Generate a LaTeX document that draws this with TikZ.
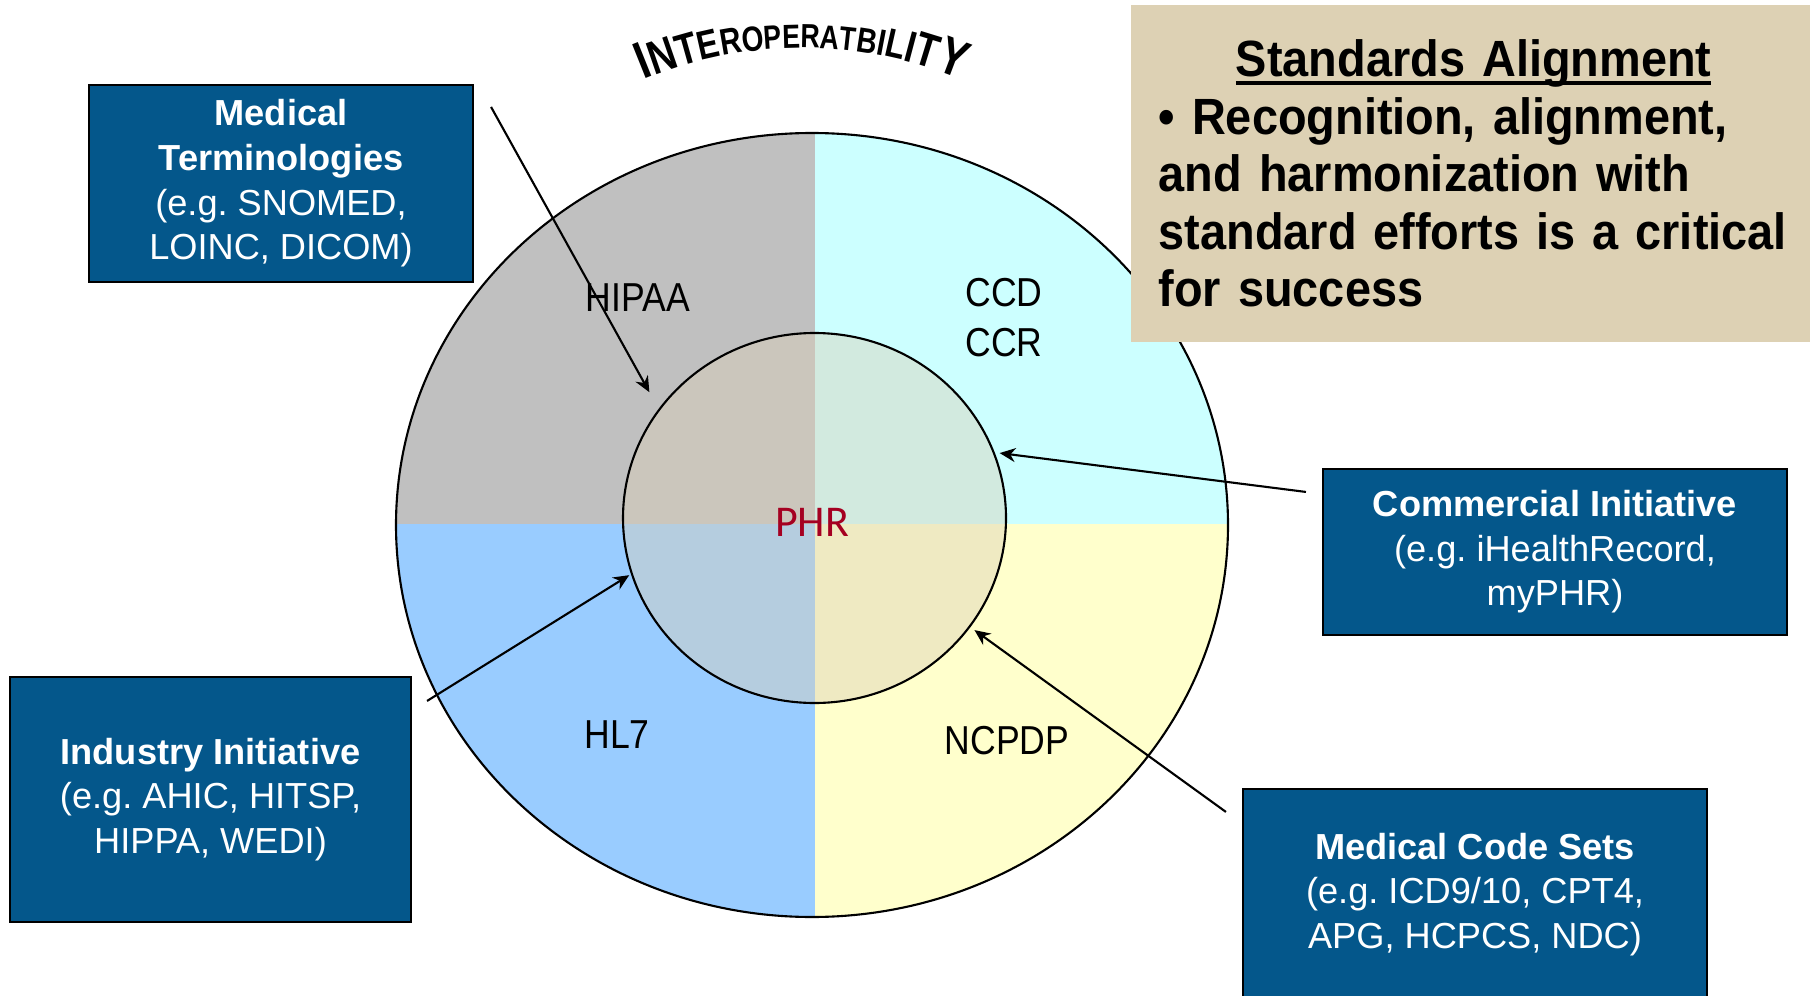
\documentclass[tikz,border=0pt]{standalone}
\usepackage{fontspec}
\setmainfont{Liberation Sans}
\newfontfamily\narrowfont[FakeStretch=0.88]{Liberation Sans}
\newfontfamily\stdfont[FakeStretch=0.92]{Liberation Sans}
\newfontfamily\arcfont[FakeStretch=0.80]{Liberation Sans}
\newfontfamily\phrfont{Carlito}
\usetikzlibrary{arrows.meta,shapes.geometric,decorations.text,positioning}
\frenchspacing
\definecolor{boxblue}{HTML}{04578B}
\definecolor{stdtan}{HTML}{DDD1B4}
\definecolor{qgray}{HTML}{C0C0C0}
\definecolor{qcyan}{HTML}{CCFFFF}
\definecolor{qblue}{HTML}{99CCFF}
\definecolor{qyellow}{HTML}{FFFFCC}
\definecolor{discfill}{HTML}{DBD0B7}
\definecolor{phrred}{HTML}{A50021}
\newcommand{\ai}[1]{\arcfont\bfseries\fontsize{#1}{#1}\selectfont}
\newcommand{\thickul}[1]{\setbox0\hbox{#1}\rlap{\rule[-2.4pt]{\wd0}{1.1pt}}\box0}
\tikzset{
  infobox/.style={draw=black, line width=0.6pt, fill=boxblue, text=white, align=center,
    inner sep=0pt, font=\fontsize{10.3}{12.7}\selectfont},
  stdbox/.style={fill=stdtan, text=black, align=left, text width=6.8cm, inner xsep=0.28cm,
    inner ysep=0pt, minimum height=3.37cm, font=\stdfont\bfseries\fontsize{14.5}{16.4}\selectfont},
  ring/.style={draw=black, line width=0.6pt},
  phrdisc/.style={ellipse, draw=black, line width=0.6pt, fill=discfill, fill opacity=0.43,
    inner sep=0pt, minimum width=3.83cm, minimum height=3.70cm},
  phrtext/.style={text=phrred, inner sep=0pt, font=\phrfont\fontsize{12.5}{12.5}\selectfont},
  lbl/.style={align=center, inner sep=0pt, font=\narrowfont\fontsize{11.5}{14.2}\selectfont},
  ptr/.style={draw=black, line width=0.6pt, -{Stealth[length=4.5pt,width=4pt]}},
}

\begin{document}
\begin{tikzpicture}
  \useasboundingbox (0,0) rectangle (18.10,-9.96);
  \coordinate (O) at (8.12,-5.25);
  \coordinate (X) at (8.15,-5.24);
  \coordinate (arcc) at (8.02,-4.59);

  % four quadrants of the outer ring
  \begin{scope}
    \clip (O) ellipse [x radius=4.16, y radius=3.92];
    \fill[qgray] (X) rectangle (3.8,-1.0);
    \fill[qcyan] (X) rectangle (12.5,-1.0);
    \fill[qblue] (X) rectangle (3.8,-9.5);
    \fill[qyellow] (X) rectangle (12.5,-9.5);
  \end{scope}
  \draw[ring] (O) ellipse [x radius=4.16, y radius=3.92];
  \node[phrdisc] (phr) at (8.145,-5.18) {};
  \node[phrtext] (phrlabel) at (8.12,-5.225) {PHR};

  \node[lbl] (hipaa) at (6.38,-2.98) {HIPAA};
  \node[lbl] (ccd) at (10.04,-3.18) {CCD\\CCR};
  \node[lbl] (hl7) at (6.17,-7.35) {HL7};
  \node[lbl] (ncpdp) at (10.07,-7.41) {NCPDP};

  \path[decorate, decoration={text along path, text align=center,
    text={|\ai{15}|I|\ai{13.5}|N|\ai{12.5}|T|\ai{11.5}|E|\ai{10.5}|R|\ai{10}|O|\ai{9.5}|P|\ai{9.5}|E|\ai{9.5}|R|\ai{9.5}|A|\ai{9.5}|T|\ai{10}|B|\ai{10.5}|I|\ai{11.5}|L|\ai{12.5}|I|\ai{13.5}|T|\ai{15}|Y}}]
    ([shift={(arcc)}]118:4.11) arc[start angle=118, end angle=62, radius=4.11];

  \node[stdbox, anchor=west] (stdalign) at (11.30,-1.735)
    {\makebox[6.3cm]{\thickul{Standards Alignment}}\\
     \textbullet{} Recognition, alignment,\\
     and harmonization with\\
     standard efforts is a critical\\
     for success};

  \node[infobox, minimum width=3.84cm, minimum height=1.97cm] (medterm) at (2.81,-1.835)
    {\textbf{Medical}\\\textbf{Terminologies}\\(e.g. SNOMED,\\LOINC, DICOM)};
  \node[infobox, minimum width=4.64cm, minimum height=1.66cm] (commerce) at (15.55,-5.52)
    {\textbf{Commercial Initiative}\\(e.g. iHealthRecord,\\myPHR)};
  \node[infobox, minimum width=4.01cm, minimum height=2.45cm] (industry) at (2.105,-7.995)
    {\textbf{Industry Initiative}\\(e.g. AHIC, HITSP,\\HIPPA, WEDI)};
  \node[infobox, minimum width=4.64cm, minimum height=2.11cm] (codeset) at (14.75,-8.945)
    {\textbf{Medical Code Sets}\\(e.g. ICD9/10, CPT4,\\APG, HCPCS, NDC)};

  % pointers onto the PHR disc
  \coordinate (s1) at ([shift={(0.17,-0.23)}]medterm.north east);
  \coordinate (s2) at ([shift={(-0.16,-0.24)}]commerce.north west);
  \coordinate (s3) at ([shift={(0.15,-0.25)}]industry.north east);
  \coordinate (s4) at ([shift={(-0.16,-0.24)}]codeset.north west);
  \draw[ptr, shorten >=0.19cm] (s1) -- (phr.145);
  \draw[ptr, shorten >=0.05cm] (s2) -- (phr.20);
  \draw[ptr, shorten >=0.02cm] (s3) -- (phr.197);
  \draw[ptr, shorten >=0.05cm] (s4) -- (phr.-35);
\end{tikzpicture}
\end{document}
